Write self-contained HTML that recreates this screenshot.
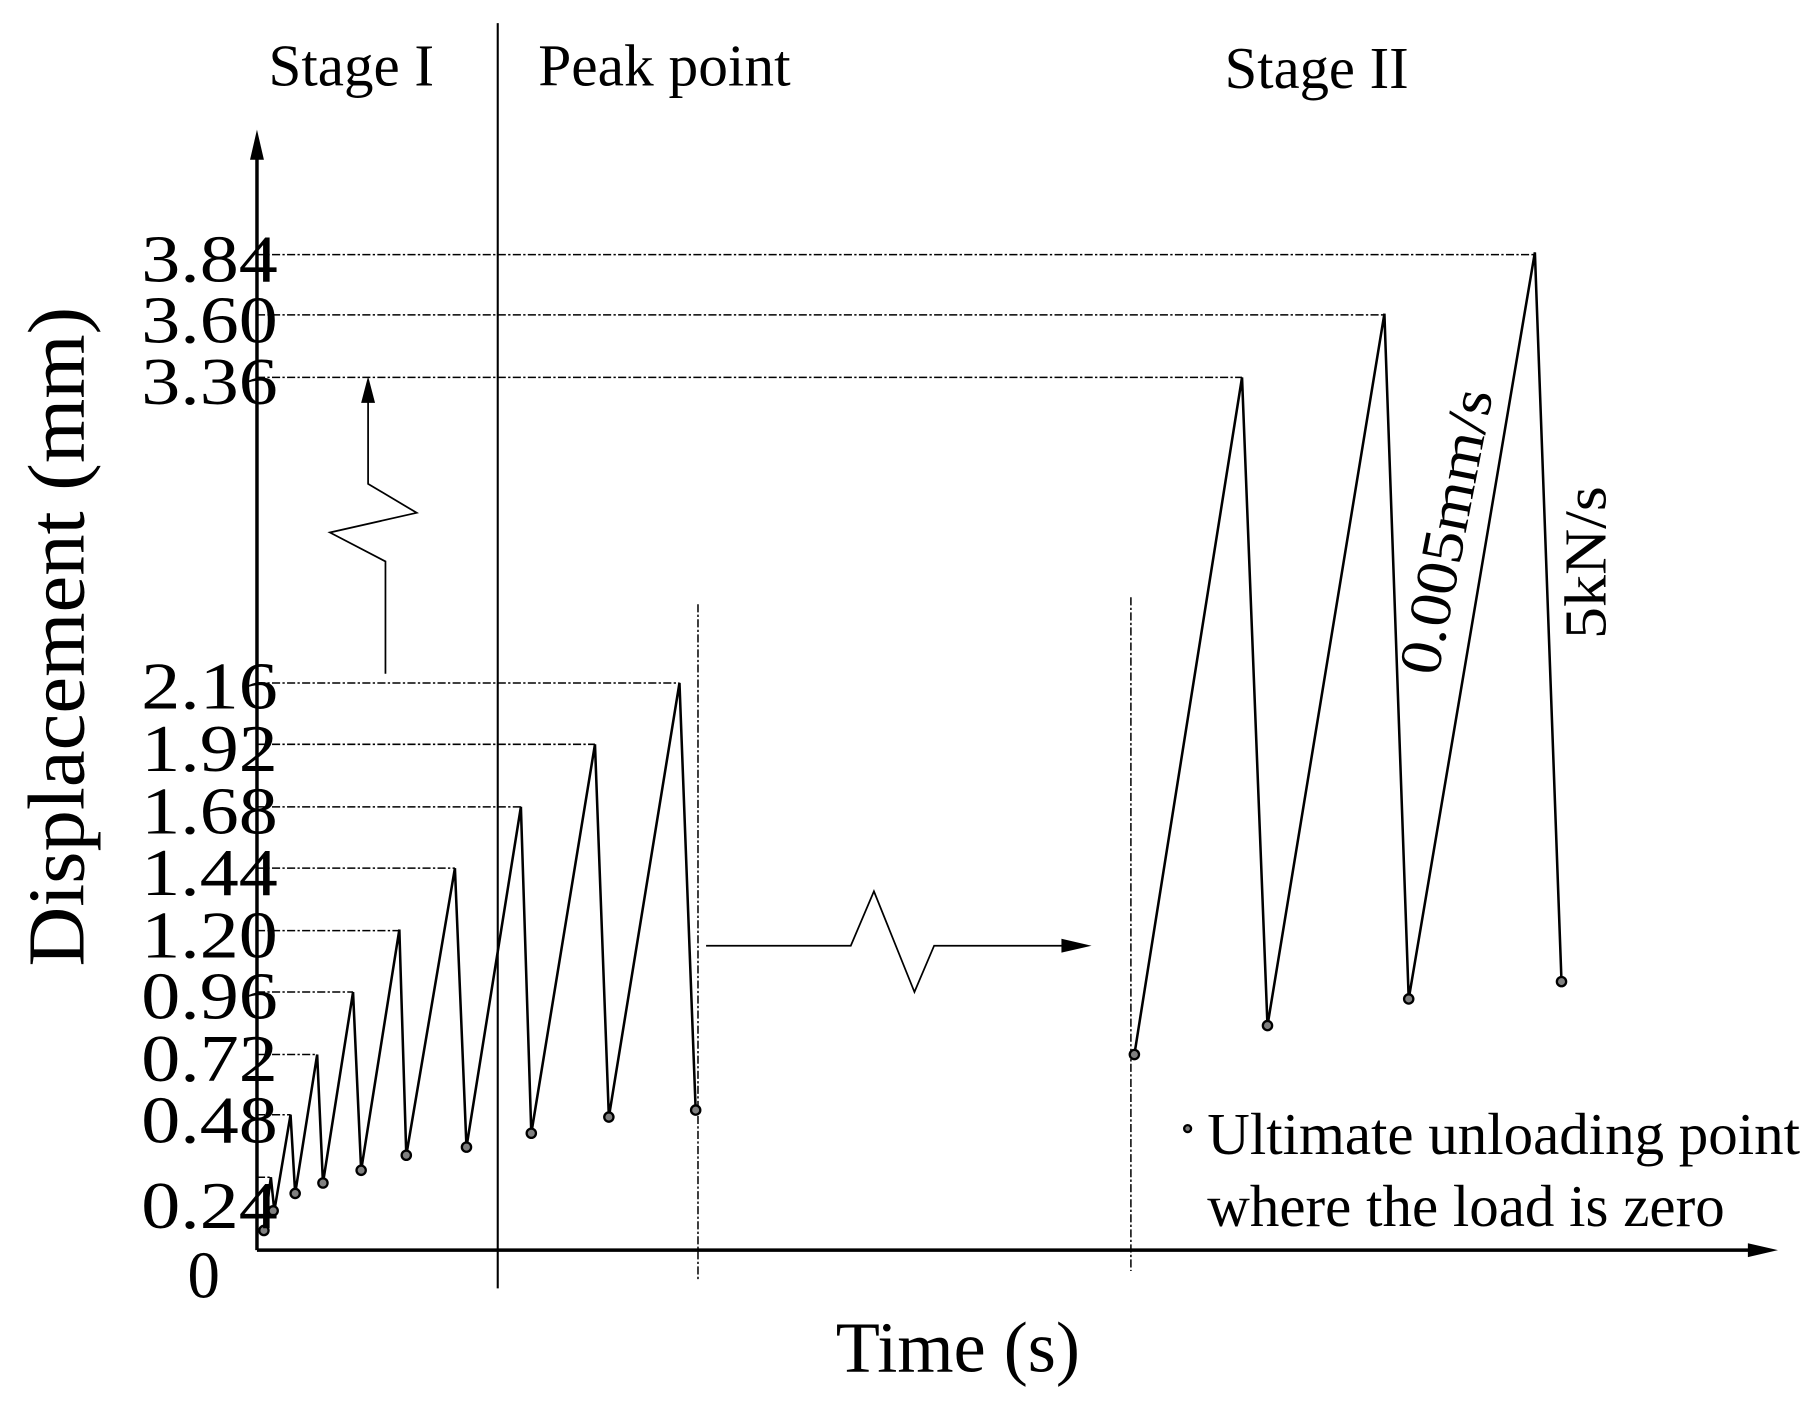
<!DOCTYPE html>
<html><head><meta charset="utf-8"><style>html,body{margin:0;padding:0;background:#fff}svg{display:block}</style></head>
<body>
<svg width="1815" height="1401" viewBox="0 0 1568 1210.3" xmlns="http://www.w3.org/2000/svg" font-family="Liberation Serif, serif">
<rect width="1568" height="1211" fill="#fff"/>
<g stroke="#000" stroke-width="1.3" stroke-dasharray="7,2,2,2" fill="none">
<line x1="222" y1="220" x2="1326" y2="220"/>
<line x1="222" y1="272" x2="1196" y2="272"/>
<line x1="222" y1="326" x2="1073" y2="326"/>
<line x1="222" y1="590" x2="587" y2="590"/>
<line x1="222" y1="643" x2="514" y2="643"/>
<line x1="222" y1="697" x2="450" y2="697"/>
<line x1="222" y1="750" x2="393" y2="750"/>
<line x1="222" y1="804" x2="345" y2="804"/>
<line x1="222" y1="857" x2="305" y2="857"/>
<line x1="222" y1="911" x2="274" y2="911"/>
<line x1="222" y1="963" x2="251" y2="963"/>
<line x1="222" y1="1017" x2="234" y2="1017"/>
<line x1="603" y1="522" x2="603" y2="1105"/>
<line x1="977" y1="516" x2="977" y2="1098"/>
</g>
<g stroke="#000" fill="none">
<line x1="222" y1="1080" x2="222" y2="125" stroke-width="3"/>
<line x1="222" y1="1080" x2="1520" y2="1080" stroke-width="3"/>
<line x1="430" y1="20" x2="430" y2="1113" stroke-width="1.8"/>
<polyline stroke-width="2.2" stroke-linejoin="miter" points="228,1063 234,1017 237,1046 251,963 255,1031 274,911 279,1022 305,857 312,1011 345,803 351,998 393,750 403,991 450,697 459,979 514,643 526,965 587,590 601,959"/>
<polyline stroke-width="2.2" points="980,911 1073,326 1095,886 1196,271 1217,863 1326,218 1349,848"/>
<polyline stroke-width="1.5" points="610,817 735,817 755,770 790,857 807,817 925,817"/>
<polyline stroke-width="1.5" points="333,582 333,485 285,460 360,443 318,418 318,340"/>
</g>
<g fill="#000">
<polygon points="222,112 216,138 228,138"/>
<polygon points="1536,1080 1510,1074 1510,1086"/>
<polygon points="943,817 917,811 917,823"/>
<polygon points="318,325 312,348 324,348"/>
</g>
<g fill="#808080" stroke="#000" stroke-width="2">
<circle cx="228" cy="1063" r="4"/><circle cx="236" cy="1046" r="4"/><circle cx="255" cy="1031" r="4"/><circle cx="279" cy="1022" r="4"/><circle cx="312" cy="1011" r="4"/><circle cx="351" cy="998" r="4"/><circle cx="403" cy="991" r="4"/><circle cx="459" cy="979" r="4"/><circle cx="526" cy="965" r="4"/><circle cx="601" cy="959" r="4"/>
<circle cx="980" cy="911" r="4"/><circle cx="1095" cy="886" r="4"/><circle cx="1217" cy="863" r="4"/><circle cx="1349" cy="848" r="4"/>
<circle cx="1026" cy="975" r="3"/>
</g>
<g font-size="58" fill="#000">
<text x="122" y="243" textLength="118" lengthAdjust="spacingAndGlyphs">3.84</text>
<text x="122" y="296" textLength="118" lengthAdjust="spacingAndGlyphs">3.60</text>
<text x="122" y="349" textLength="118" lengthAdjust="spacingAndGlyphs">3.36</text>
<text x="122" y="612" textLength="118" lengthAdjust="spacingAndGlyphs">2.16</text>
<text x="122" y="666" textLength="118" lengthAdjust="spacingAndGlyphs">1.92</text>
<text x="122" y="720" textLength="118" lengthAdjust="spacingAndGlyphs">1.68</text>
<text x="122" y="773" textLength="118" lengthAdjust="spacingAndGlyphs">1.44</text>
<text x="122" y="827" textLength="118" lengthAdjust="spacingAndGlyphs">1.20</text>
<text x="122" y="880" textLength="118" lengthAdjust="spacingAndGlyphs">0.96</text>
<text x="122" y="934" textLength="118" lengthAdjust="spacingAndGlyphs">0.72</text>
<text x="122" y="987" textLength="118" lengthAdjust="spacingAndGlyphs">0.48</text>
<text x="122" y="1061" textLength="118" lengthAdjust="spacingAndGlyphs">0.24</text>
<text x="162" y="1121" textLength="28" lengthAdjust="spacingAndGlyphs">0</text>
</g>
<g font-size="51" fill="#000">
<text x="232" y="74" textLength="143" lengthAdjust="spacingAndGlyphs">Stage I</text>
<text x="465" y="74" textLength="218" lengthAdjust="spacingAndGlyphs">Peak point</text>
<text x="1058" y="76" textLength="159" lengthAdjust="spacingAndGlyphs">Stage II</text>
<text x="1043" y="997" textLength="512" lengthAdjust="spacingAndGlyphs">Ultimate unloading point</text>
<text x="1043" y="1059" textLength="447" lengthAdjust="spacingAndGlyphs">where the load is zero</text>
<text transform="translate(1242,585) rotate(-79)" textLength="250" lengthAdjust="spacingAndGlyphs">0.005mm/s</text>
<text transform="translate(1387,552) rotate(-90)" textLength="132" lengthAdjust="spacingAndGlyphs">5kN/s</text>
</g>
<text x="722" y="1185" font-size="62" textLength="211" lengthAdjust="spacingAndGlyphs">Time (s)</text>
<text transform="translate(72,835) rotate(-90)" font-size="70" textLength="570" lengthAdjust="spacingAndGlyphs">Displacement (mm)</text>
</svg>
</body></html>
